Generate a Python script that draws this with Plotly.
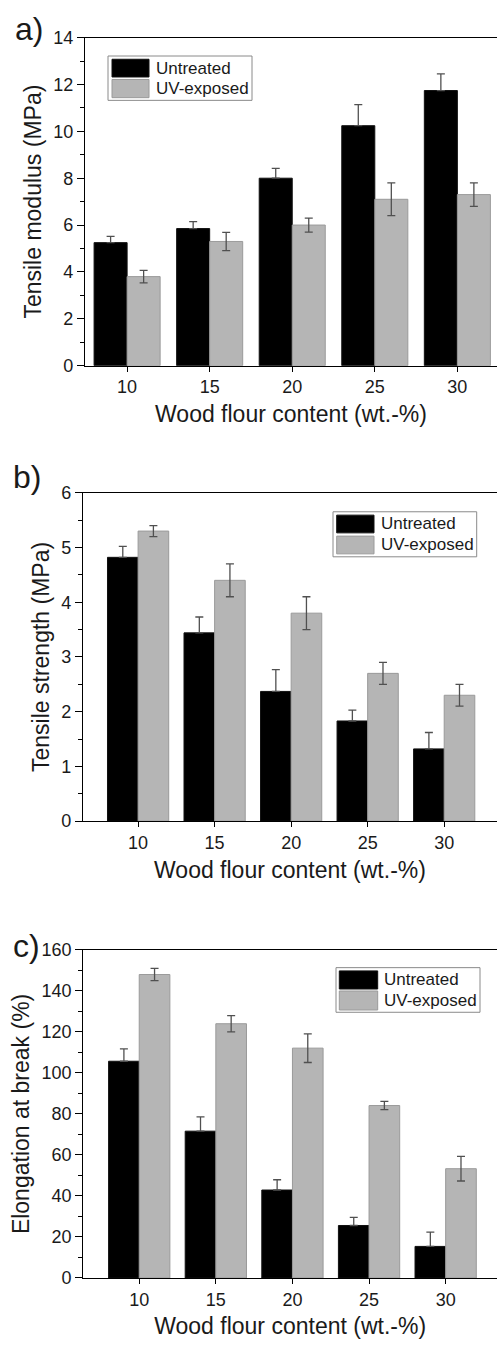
import plotly.graph_objects as go

W, H = 497, 1354

categories = ["10", "15", "20", "25", "30"]

modulus_untreated = [5.25, 5.85, 8.0, 10.24, 11.74]
modulus_untreated_err = [0.27, 0.3, 0.42, 0.9, 0.71]
modulus_uv = [3.8, 5.3, 6.0, 7.1, 7.3]
modulus_uv_err = [0.27, 0.39, 0.3, 0.7, 0.5]

strength_untreated = [4.82, 3.44, 2.37, 1.83, 1.32]
strength_untreated_err = [0.2, 0.29, 0.4, 0.2, 0.3]
strength_uv = [5.3, 4.4, 3.8, 2.7, 2.3]
strength_uv_err = [0.1, 0.3, 0.3, 0.2, 0.2]

elong_untreated = [105.7, 71.6, 42.9, 25.6, 15.4]
elong_untreated_err = [6, 7, 5, 4, 7]
elong_uv = [148.0, 124.0, 112.1, 84.1, 53.3]
elong_uv_err = [3, 4, 7, 2, 6]

series_names = ["Untreated", "UV-exposed"]
y_titles = ["Tensile modulus (MPa)", "Tensile strength (MPa)", "Elongation at break (%)"]
x_title = "Wood flour content (wt.-%)"
panel_labels = ["a)", "b)", "c)"]

FONT = "Arial, Liberation Sans, sans-serif"
BLACK = "#000000"
GRAY = "#b5b5b5"
ERR = "#505050"
TXT = "#1a1a1a"


def px(x):
    return x / W


def py(y):
    return 1 - y / H


fig = go.Figure()

panels = [
    (modulus_untreated, modulus_untreated_err, modulus_uv, modulus_uv_err),
    (strength_untreated, strength_untreated_err, strength_uv, strength_uv_err),
    (elong_untreated, elong_untreated_err, elong_uv, elong_uv_err),
]

# layout geometry (pixels)
geo = [
    dict(left=85, top=28, bottom=361, xr=[-0.51, 4.48], yr=[0, 14], dt=2, mdt=1,
         leg=dict(box=(108, 46.7, 252, 91.7), sw1=(112, 50, 149, 68), sw2=(112, 70.5, 149, 89), tx=154),
         lab=(29, 19)),
    dict(left=83, top=490, bottom=823.3, xr=[-0.72, 4.69], yr=[0, 6], dt=1, mdt=0.5,
         leg=dict(box=(333, 509.3, 476.7, 555), sw1=(336.7, 512.7, 374, 530.7), sw2=(336.7, 534, 374, 552), tx=379),
         lab=(27, 474)),
    dict(left=83.3, top=954, bottom=1287, xr=[-0.73, 4.67], yr=[0, 160], dt=20, mdt=10,
         leg=dict(box=(336, 972, 480, 1017.3), sw1=(339.3, 975.3, 377.7, 993.7), sw2=(339.3, 995.7, 377.7, 1015), tx=382),
         lab=(26, 950)),
]

shapes = []
annotations = []
no_lower = [0, 0, 0, 0, 0]  # lower half of error bar hidden behind the black bars

for i, ((u, ue, v, ve), g) in enumerate(zip(panels, geo)):
    n = i + 1
    xa = "x" if n == 1 else f"x{n}"
    ya = "y" if n == 1 else f"y{n}"
    fig.add_trace(go.Bar(
        x=categories, y=u, name=series_names[0], xaxis=xa, yaxis=ya,
        marker=dict(color=BLACK, line=dict(color="#111111", width=1)),
        error_y=dict(type="data", symmetric=False, array=ue, arrayminus=no_lower, visible=True,
                     color=ERR, thickness=1.3, width=4),
        showlegend=False,
    ))
    fig.add_trace(go.Bar(
        x=categories, y=v, name=series_names[1], xaxis=xa, yaxis=ya,
        marker=dict(color=GRAY, line=dict(color="#9a9a9a", width=1)),
        error_y=dict(type="data", array=ve, visible=True, color=ERR, thickness=1.3, width=4),
        showlegend=False,
    ))
    xkey = "xaxis" if n == 1 else f"xaxis{n}"
    ykey = "yaxis" if n == 1 else f"yaxis{n}"
    fig.layout[xkey] = dict(
        domain=[px(g["left"]), 1], anchor=ya, range=g["xr"], type="category",
        showline=True, linecolor="#000", linewidth=1.4, mirror=True,
        ticks="outside", ticklen=5, tickwidth=1.2, tickcolor="#000",
        tickfont=dict(family=FONT, size=18, color=TXT),
        title=dict(text=x_title, font=dict(family=FONT, size=23, color=TXT), standoff=9),
        showgrid=False, zeroline=False, fixedrange=True,
    )
    fig.layout[ykey] = dict(
        domain=[py(g["bottom"]), py(g["top"])], anchor=xa, range=g["yr"], dtick=g["dt"],
        showline=True, linecolor="#000", linewidth=1.4, mirror=False,
        ticks="outside", ticklen=7, tickwidth=1.2, tickcolor="#000",
        minor=dict(dtick=g["mdt"], ticks="outside", ticklen=4, tickwidth=1.2, tickcolor="#000", showgrid=False),
        tickfont=dict(family=FONT, size=18, color=TXT),
        title=dict(text=y_titles[i], font=dict(family=FONT, size=23, color=TXT), standoff=5),
        showgrid=False, zeroline=False, fixedrange=True,
    )
    # manual legend
    L = g["leg"]
    bx = L["box"]
    shapes.append(dict(type="rect", xref="paper", yref="paper",
                       x0=px(bx[0]), x1=px(bx[2]), y0=py(bx[3]), y1=py(bx[1]),
                       line=dict(color="#8a8a8a", width=1), fillcolor="white", layer="above"))
    for sw, col, lc, name in [(L["sw1"], BLACK, "#111111", series_names[0]), (L["sw2"], GRAY, "#9a9a9a", series_names[1])]:
        shapes.append(dict(type="rect", xref="paper", yref="paper",
                           x0=px(sw[0]), x1=px(sw[2]), y0=py(sw[3]), y1=py(sw[1]),
                           line=dict(color=lc, width=1), fillcolor=col, layer="above"))
        annotations.append(dict(text=name, xref="paper", yref="paper", x=px(L["tx"]),
                                y=py((sw[1] + sw[3]) / 2), xanchor="left", yanchor="middle",
                                showarrow=False, font=dict(family=FONT, size=17, color=TXT)))
    annotations.append(dict(text=panel_labels[i], xref="paper", yref="paper",
                            x=px(g["lab"][0]), y=py(g["lab"][1]), xanchor="center", yanchor="middle",
                            showarrow=False, font=dict(family=FONT, size=32, color=TXT)))

fig.update_layout(
    width=W, height=H, margin=dict(l=0, r=0, t=0, b=0),
    paper_bgcolor="white", plot_bgcolor="white",
    barmode="group", bargap=0.2, bargroupgap=0,
    shapes=shapes, annotations=annotations, showlegend=False,
)

fig.write_html("out.html")
